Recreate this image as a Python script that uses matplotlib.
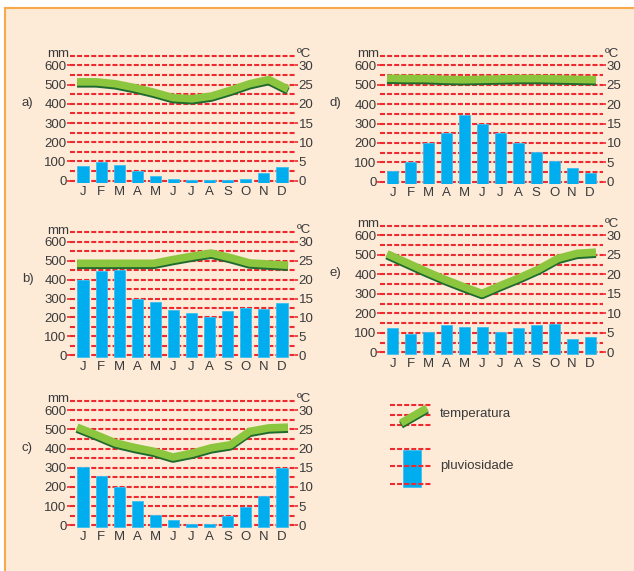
import matplotlib
matplotlib.use("Agg")
import matplotlib.pyplot as plt
import matplotlib.patheffects as pe
from matplotlib.patches import Rectangle
import numpy as np

plt.rcParams['font.family'] = ['Liberation Sans', 'DejaVu Sans']

# dados
meses = ["J", "F", "M", "A", "M", "J", "J", "A", "S", "O", "N", "D"]
mm_ticks = [0, 100, 200, 300, 400, 500, 600]
c_ticks = [0, 5, 10, 15, 20, 25, 30]

chuva_a = [77, 96, 82, 50, 26, 9, 4, 4, 4, 9, 42, 73]
temp_a = [25.7, 25.7, 25.2, 24.2, 23.0, 21.6, 21.3, 22.0, 23.5, 25.2, 26.3, 23.8]

chuva_b = [400, 444, 453, 296, 281, 241, 223, 200, 232, 248, 246, 276]
temp_b = [24.3, 24.3, 24.3, 24.3, 24.3, 25.3, 26.2, 27.0, 25.8, 24.4, 24.1, 23.8]

chuva_c = [302, 255, 199, 127, 54, 26, 7, 7, 51, 98, 154, 298]
temp_c = [25.6, 23.6, 21.5, 20.3, 19.3, 17.8, 18.8, 20.2, 21.0, 24.5, 25.4, 25.6]

chuva_d = [53, 102, 198, 252, 345, 297, 250, 198, 153, 107, 72, 47]
temp_d = [26.7, 26.6, 26.6, 26.4, 26.3, 26.4, 26.5, 26.6, 26.6, 26.5, 26.4, 26.3]

chuva_e = [125, 95, 104, 142, 131, 131, 104, 126, 140, 145, 69, 78]
temp_e = [25.3, 23.1, 20.9, 18.8, 16.9, 15.1, 17.2, 19.2, 21.4, 24.1, 25.4, 25.7]

W, H = 634, 571
FUNDO = "#fdebd8"
VERMELHO = "#ee2a2f"
AZUL = "#00aeef"
VERDE = "#8cc63f"
VERDE_ESC = "#1f6a2e"
TEXTO = "#3a3a3a"
FS = 9.5

fig = plt.figure(figsize=(W / 100, H / 100), dpi=100)
fig.patch.set_facecolor("white")

# caixa de fundo com borda laranja
fundo = fig.add_axes([0, 0, 1, 1])
fundo.set_xlim(0, W)
fundo.set_ylim(H, 0)
fundo.axis("off")
fundo.add_patch(Rectangle((5, 7.5), W, H, facecolor=FUNDO, edgecolor="none"))
fundo.plot([5, 5], [7.5, H], color="#f8a94a", lw=1.5)
fundo.plot([5, W], [7.5, 7.5], color="#f8a94a", lw=1.5)

YMIN, YMAX = -14, 662
XMIN, XMAX = -0.72, 11.72

sombra = [pe.SimpleLineShadow(offset=(0, -1.4), shadow_color=VERDE_ESC, alpha=1.0),
          pe.Normal()]


def climograma(x0, x1, y650, y0, chuva, temp, letra, lx):
    # posicao do eixo em pixels
    pxmm = (y0 - y650) / 650.0
    top = y650 - (YMAX - 650) * pxmm
    bot = y0 + (0 - YMIN) * pxmm
    ax = fig.add_axes([x0 / W, 1 - bot / H, (x1 - x0) / W, (bot - top) / H])
    ax.set_xlim(XMIN, XMAX)
    ax.set_ylim(YMIN, YMAX)
    ax.patch.set_alpha(0)
    for s in ax.spines.values():
        s.set_visible(False)

    for v in range(0, 651, 50):
        ax.axhline(v, color=VERMELHO, lw=1.5, ls=(0, (2.4, 1.0)), zorder=1)

    x = np.arange(12)
    ax.bar(x, np.array(chuva) + 10, bottom=-10, width=0.62, color=AZUL,
           edgecolor="#3cc0f0", linewidth=0.6, zorder=2)

    tx = np.linspace(-0.33, 11.33, 12)
    ax.plot(tx, np.array(temp) * 20, color=VERDE, lw=5.5,
            solid_capstyle="butt", solid_joinstyle="round", zorder=3,
            path_effects=sombra)

    ax.set_xticks(x)
    ax.set_xticklabels(meses)
    ax.tick_params(axis="x", length=0, pad=2, labelsize=FS, labelcolor=TEXTO)
    ax.set_yticks(mm_ticks)
    ax.set_yticklabels([str(t) for t in mm_ticks])
    ax.tick_params(axis="y", length=2, width=1.2, color=VERMELHO, pad=0.5,
                   labelsize=FS, labelcolor=TEXTO)

    ax2 = ax.twinx()
    ax2.set_ylim(YMIN / 20, YMAX / 20)
    for s in ax2.spines.values():
        s.set_visible(False)
    ax2.set_yticks(c_ticks)
    ax2.set_yticklabels([str(t) for t in c_ticks])
    ax2.tick_params(axis="y", length=2, width=1.2, color=VERMELHO, pad=0.5,
                    labelsize=FS, labelcolor=TEXTO)

    fundo.text(x0 - 1, y650 - 1.5, "mm", ha="right", va="center", fontsize=FS, color=TEXTO)
    fundo.text(x1 + 2, y650 - 2, "ºC", ha="left", va="center", fontsize=FS, color=TEXTO)
    fundo.text(lx, y650 + 47, letra, ha="left", va="center", fontsize=FS, color=TEXTO)


climograma(70, 295, 55.7, 180.7, chuva_a, temp_a, "a)", 22)
climograma(70, 295, 232.3, 355.3, chuva_b, temp_b, "b)", 22)
climograma(70, 295, 400.7, 525.3, chuva_c, temp_c, "c)", 22)
climograma(380, 603, 55.7, 181.7, chuva_d, temp_d, "d)", 330)
climograma(380, 603, 225.7, 352.3, chuva_e, temp_e, "e)", 330)

# legenda
for yy in [405, 415, 424.5, 448.5, 466, 484]:
    fundo.plot([390, 432], [yy, yy], color=VERMELHO, lw=1.5, ls=(0, (2.4, 1.0)))
fundo.plot([401, 427], [423, 408], color=VERDE, lw=5.5, solid_capstyle="butt",
           path_effects=sombra)
fundo.add_patch(Rectangle((402.5, 450), 18.5, 36.5, facecolor=AZUL, edgecolor="#3cc0f0", lw=0.6))
fundo.text(440, 414, "temperatura", ha="left", va="center", fontsize=FS, color=TEXTO)
fundo.text(440, 466, "pluviosidade", ha="left", va="center", fontsize=FS, color=TEXTO)

fig.savefig("out.png", dpi=100, facecolor=fig.get_facecolor())
